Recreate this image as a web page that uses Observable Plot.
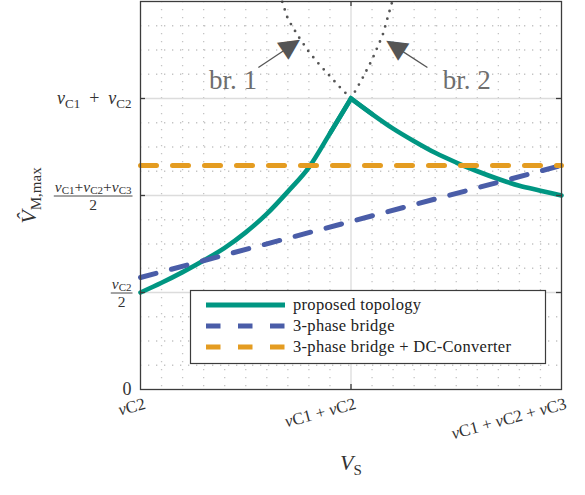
<!DOCTYPE html>
<html><head><meta charset="utf-8">
<script src="https://cdn.jsdelivr.net/npm/d3@7"></script>
<script src="https://cdn.jsdelivr.net/npm/@observablehq/plot@0.6"></script>
<style>
body{margin:0;background:#fff;}
#chart{width:585px;height:495px;}
#chart svg text, #chart svg tspan{font-family:"Liberation Serif","DejaVu Serif","Noto Serif",serif;}
#chart svg text.glyph{font-family:"DejaVu Sans",sans-serif;}
</style></head><body><div id="chart"></div>
<script>
// ---------- data (Vs in units where vC2=2, vC1+vC2=3, vC1+vC2+vC3=4) ----------
const vsRise = [2.0, 2.1, 2.2, 2.3, 2.4, 2.5, 2.6, 2.7, 2.8, 2.9, 3.0];
const vmRise = [1.0, 1.10, 1.21, 1.33, 1.46, 1.62, 1.81, 2.04, 2.29, 2.64, 3.0];
const vsFall = [3.0, 3.1, 3.2, 3.3, 3.4, 3.5, 3.6, 3.7, 3.8, 3.9, 4.0];
const vmFall = [3.0, 2.84, 2.69, 2.56, 2.44, 2.34, 2.25, 2.17, 2.10, 2.05, 2.0];
const vsBr1 = [3.0, 2.95, 2.9, 2.85, 2.8, 2.75, 2.7, 2.673];
const vmBr1 = [3.0, 3.11, 3.23, 3.35, 3.48, 3.64, 3.82, 4.0];
const vsBr2 = [3.0, 3.05, 3.1, 3.15, 3.196];
const vmBr2 = [3.0, 3.19, 3.40, 3.65, 4.0];
const vsBridge = [2.0, 4.0];
const vmBridge = [1.155, 2.31];
const vsDcConv = [2.0, 4.0];
const vmDcConv = [2.31, 2.31];
const seriesNames = ["proposed topology", "3-phase bridge", "3-phase bridge + DC-Converter"];
const xTicks = [2, 3, 4];
const xTickLabels = ["$v$C2", "$v$C1 + $v$C2", "$v$C1 + $v$C2 + $v$C3"];
const yTicks = [0, 1, 2, 3];
const yTickLabels = ["0", "\\frac{$v$_{C2}}{2}", "\\frac{$v$_{C1}+$v$_{C2}+$v$_{C3}}{2}", "$v$_{C1}\u2002+\u2002$v$_{C2}"];
const xTitle = "$V$_{S}";
const yTitle = "$V\u0302$_{M,max}";
const branchLabels = ["br.\u00a01", "br.\u00a02"];
const branchLabelX = [2.44, 3.55];
const branchLabelY = [3.19, 3.19];
const arrowTailX = [2.56, 3.363];
const arrowTailY = [3.32, 3.32];
const arrowTipX = [2.768, 3.157];
const arrowTipY = [3.62, 3.61];

// ---------- layout ----------
const W = 585, H = 495, mL = 140, mR = 24, mT = 1, mB = 106;
const innerW = W - mL - mR, innerH = H - mT - mB;
const cGreen = "#009682", cBlue = "#4a5da8", cOrange = "#e49c21";

const riseData = vsRise.map((x, i) => ({x, y: vmRise[i]}));
const fallData = vsFall.map((x, i) => ({x, y: vmFall[i]}));
// the three recorded points around the peak, joined with a mitred corner
const peakData = [riseData[riseData.length - 2], riseData[riseData.length - 1], fallData[1]];
const br1Data = vsBr1.map((x, i) => ({x, y: vmBr1[i]}));
const br2Data = vsBr2.map((x, i) => ({x, y: vmBr2[i]}));
const bridgeData = vsBridge.map((x, i) => ({x, y: vmBridge[i]}));
const dcData = vsDcConv.map((x, i) => ({x, y: vmDcConv[i]}));
const kx = innerW / 2, ky = innerH / 4;
const arrows = arrowTailX.map((_, i) => {
  const x1 = arrowTailX[i], y1 = arrowTailY[i], x2 = arrowTipX[i], y2 = arrowTipY[i];
  const len = Math.hypot((x2 - x1) * kx, (y2 - y1) * ky);
  const back = 11.5 / len; // head anchor sits behind the tip
  return {x1, y1, x2, y2, hx: x2 - (x2 - x1) * back, hy: y2 - (y2 - y1) * back,
    angle: Math.atan2(-(y2 - y1) * ky, (x2 - x1) * kx) * 180 / Math.PI + 90};
});
const brLabels = branchLabels.map((t, i) => ({t, x: branchLabelX[i], y: branchLabelY[i]}));

const xMinor = d3.range(1, 20).filter(i => i !== 10).map(i => 2 + i / 10);
const yMinor = d3.range(1, 16).filter(i => i % 4 !== 0).map(i => i / 4);
const yMajor = yTicks.filter(v => v > 0);
const xMajor = xTicks.filter(v => v > 2 && v < 4);

const svg = Plot.plot({
  width: W, height: H,
  marginLeft: mL, marginRight: mR, marginTop: mT, marginBottom: mB,
  x: {domain: [2, 4], axis: null},
  y: {domain: [0, 4], axis: null},
  style: {fontSize: "17px", background: "white", color: "#333"},
  marks: [
    Plot.ruleX(xMinor, {stroke: "#c4c4c4", strokeWidth: 1.3, strokeDasharray: "1.3,6.7"}),
    Plot.ruleY(yMinor, {stroke: "#c4c4c4", strokeWidth: 1.3, strokeDasharray: "1.3,6.7"}),
    Plot.ruleX(xMajor, {stroke: "#dcdcdc", strokeWidth: 1.3}),
    Plot.ruleY(yMajor, {stroke: "#dcdcdc", strokeWidth: 1.3}),
    Plot.line(br1Data, {x: "x", y: "y", stroke: "#555", strokeWidth: 2.8, strokeDasharray: "0,8", strokeLinecap: "round"}),
    Plot.line(br2Data, {x: "x", y: "y", stroke: "#555", strokeWidth: 2.8, strokeDasharray: "0,8", strokeLinecap: "round"}),
    Plot.line(riseData, {x: "x", y: "y", stroke: cGreen, strokeWidth: 4.6, curve: "monotone-x"}),
    Plot.line(fallData, {x: "x", y: "y", stroke: cGreen, strokeWidth: 4.6, curve: "monotone-x"}),
    Plot.line(peakData, {x: "x", y: "y", stroke: cGreen, strokeWidth: 4.6, strokeLinejoin: "miter", strokeMiterlimit: 10}),
    Plot.line(bridgeData, {x: "x", y: "y", stroke: cBlue, strokeWidth: 5, strokeDasharray: "16,16"}),
    Plot.line(dcData, {x: "x", y: "y", stroke: cOrange, strokeWidth: 5, strokeDasharray: "16,16"}),
    Plot.link(arrows, {x1: "x1", y1: "y1", x2: "hx", y2: "hy", stroke: "#555", strokeWidth: 1.3}),
    Plot.text(arrows, {x: "hx", y: "hy", text: () => "\u25B2", rotate: "angle", textAnchor: "middle",
      fontSize: 27, fill: "#555"}),
    Plot.text(brLabels, {x: "x", y: "y", text: "t", fontSize: 27, fill: "#6e6e6e"}),
    Plot.frame({stroke: "#3c3c3c", strokeWidth: 1.3}),
    Plot.tickY(yMajor, {y: d => d, insetRight: innerW - 5, stroke: "#3c3c3c", strokeWidth: 1.3}),
    Plot.tickY(yMajor, {y: d => d, insetLeft: innerW - 5, stroke: "#3c3c3c", strokeWidth: 1.3}),
    Plot.tickX(xMajor, {x: d => d, insetTop: innerH - 5, stroke: "#3c3c3c", strokeWidth: 1.3}),
    Plot.tickX(xMajor, {x: d => d, insetBottom: innerH - 5, stroke: "#3c3c3c", strokeWidth: 1.3}),
    Plot.text(yTicks, {y: d => d, frameAnchor: "left", text: (d, i) => yTickLabels[i], textAnchor: "end", dx: -9, fontSize: 18, fill: "#333"}),
    Plot.text(xTicks, {x: d => d, frameAnchor: "bottom", text: (d, i) => xTickLabels[i], textAnchor: "end", rotate: -15, dx: 6, dy: 19, fontSize: 17, fill: "#333"}),
    Plot.text([yTitle], {frameAnchor: "left", dx: -112, rotate: -90, text: d => d, textAnchor: "middle", fontSize: 22, fill: "#333"}),
    Plot.text([xTitle], {frameAnchor: "bottom", dy: 80, text: d => d, textAnchor: "middle", fontSize: 22, fill: "#333"})
  ]
});
document.getElementById("chart").appendChild(svg);

// ---------- rich text (italic / subscript / fraction) ----------
function parseRich(s) {
  const segs = []; let i = 0, buf = "";
  const flush = () => { if (buf) { segs.push({t: buf, it: false, sub: false}); buf = ""; } };
  while (i < s.length) {
    if (s[i] === "$") { flush(); const j = s.indexOf("$", i + 1); segs.push({t: s.slice(i + 1, j), it: true, sub: false}); i = j + 1; }
    else if (s.startsWith("_{", i)) { flush(); const j = s.indexOf("}", i); segs.push({t: s.slice(i + 2, j), it: false, sub: true}); i = j + 1; }
    else { buf += s[i]; i++; }
  }
  flush(); return segs;
}
function fillRich(sel, segs, size, subSize, shift) {
  let shifted = false;
  segs.forEach(seg => {
    const ts = sel.append("tspan").text(seg.t).attr("font-size", seg.sub ? subSize : size);
    if (seg.it) ts.attr("font-style", "italic");
    if (seg.sub && !shifted) { ts.attr("dy", shift); shifted = true; }
    else if (!seg.sub && shifted) { ts.attr("dy", -shift); shifted = false; }
  });
}
function richText(node, size, subSize, shift) {
  const el = d3.select(node);
  const s = node.textContent;
  const fm = s.match(/^\\frac\{(.*)\}\{(.*)\}$/);
  if (fm) {
    const fs = 15.5;
    el.text("").attr("y", -4);
    fillRich(el, parseRich(fm[1]), fs, 11, 2.5);
    const w = node.getComputedTextLength();
    const tr = el.attr("transform");
    const p = d3.select(node.parentNode);
    p.append("line").attr("transform", tr).attr("x1", -w - 1).attr("x2", 1).attr("y1", 0.5).attr("y2", 0.5)
      .attr("stroke", "#333").attr("stroke-width", 0.9);
    p.append("text").attr("transform", tr).attr("text-anchor", "middle").attr("x", -w / 2).attr("y", 14)
      .attr("font-size", fs).attr("fill", "#333").text(fm[2]);
  } else {
    el.text("");
    fillRich(el, parseRich(s), size, subSize, shift);
  }
}
d3.select(svg).selectAll("text").nodes().forEach(node => {
  const s = node.textContent;
  if (s === "\u25B2") node.setAttribute("class", "glyph");
  else if (yTickLabels.includes(s) && s !== "0") richText(node, 18, 13, 4);
  else if (xTickLabels.includes(s)) richText(node, 17, 17, 0);
  else if (s === yTitle || s === xTitle) richText(node, 22, 15, 5);
});

// ---------- legend (inside the frame) ----------
const legendStyles = [
  {stroke: cGreen, dash: null},
  {stroke: cBlue, dash: "14.5,17.5"},
  {stroke: cOrange, dash: "14.5,17.5"}
];
const lg = d3.select(svg).append("g").attr("text-anchor", "start");
const lx = mL + 50, ly = mT + 289, lw = 355, lh = 73;
lg.append("rect").attr("x", lx + 0.5).attr("y", ly + 0.5).attr("width", lw).attr("height", lh)
  .attr("fill", "white").attr("stroke", "#3c3c3c").attr("stroke-width", 1.2);
seriesNames.forEach((name, i) => {
  const yy = ly + 15 + i * 21;
  const ln = lg.append("line").attr("x1", lx + 16).attr("x2", lx + 95).attr("y1", yy).attr("y2", yy)
    .attr("stroke", legendStyles[i].stroke).attr("stroke-width", 5);
  if (legendStyles[i].dash) ln.attr("stroke-dasharray", legendStyles[i].dash);
  lg.append("text").attr("x", lx + 103).attr("y", yy + 5).attr("font-size", 16.5)
    .attr("letter-spacing", "0.3px").attr("fill", "#222").attr("text-anchor", "start").text(name);
});
</script>
</body></html>
